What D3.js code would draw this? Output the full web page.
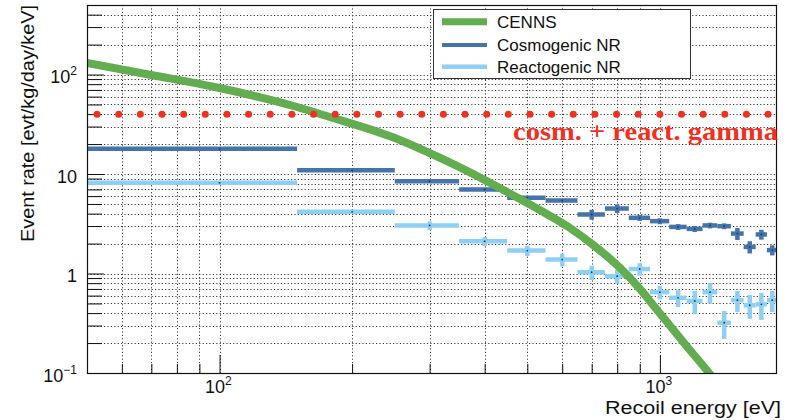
<!DOCTYPE html>
<html>
<head>
<meta charset="utf-8">
<script src="https://cdn.jsdelivr.net/npm/d3@7"></script>
<style>
  body { margin: 0; background: #fff; }
  svg { display: block; font-family: "Liberation Sans", Arial, Helvetica, sans-serif; }
</style>
</head>
<body>
<svg id="chart" width="788" height="420"></svg>
<script>
'use strict';

// CENNS expected spectrum (eV, evt/kg/day/keV)
var cennsEnergy = [50, 70, 100, 150, 172, 250, 317, 400, 481, 551, 625, 701, 812, 901, 965, 1049, 1152, 1293, 1349];
var cennsRate = [130.6, 99, 73.2, 47.2, 39.2, 23.0, 14.5, 8.71, 5.61, 4.01, 2.87, 1.98, 1.137, 0.699, 0.483, 0.307, 0.185, 0.1, 0.079];

// binned nuclear recoil backgrounds
var binLow = [50, 150, 250, 350, 450, 550, 650, 750, 850, 950, 1050, 1150, 1250, 1350, 1450, 1550, 1650, 1750];
var binHigh = [150, 250, 350, 450, 550, 650, 750, 850, 950, 1050, 1150, 1250, 1350, 1450, 1550, 1650, 1750, 1850];
var binCenter = [100, 200, 300, 400, 500, 600, 700, 800, 900, 1000, 1100, 1200, 1300, 1400, 1500, 1600, 1700, 1800];
var cosmRate = [17.9, 10.9, 8.46, 6.99, 5.77, 5.42, 3.92, 4.50, 3.63, 3.36, 2.94, 2.81, 3.04, 2.99, 2.52, 1.85, 2.47, 1.72];
var cosmErr = [0.4, 0.4, 0.3, 0.25, 0.25, 0.2, 0.45, 0.45, 0.25, 0.23, 0.2, 0.2, 0.2, 0.2, 0.35, 0.26, 0.28, 0.2];
var reactRate = [8.16, 4.17, 3.04, 2.11, 1.70, 1.38, 1.03, 0.94, 1.11, 0.65, 0.57, 0.53, 0.65, 0.32, 0.54, 0.48, 0.49, 0.54];
var reactErr = [0.15, 0.2, 0.3, 0.22, 0.2, 0.2, 0.17, 0.15, 0.16, 0.1, 0.11, 0.14, 0.15, 0.1, 0.13, 0.13, 0.15, 0.13];

// flat gamma background level
var gammaLevel = 40;
var gammaRange = [52.7, 1761];
var gammaLabel = 'cosm. + react. gamma';

// axes
var xMajor = [100, 1000];
var xMinor = [50, 60, 70, 80, 90, 200, 300, 400, 500, 600, 700, 800, 900];
var yMajor = [0.1, 1, 10, 100];
var yMinor = [0.2, 0.3, 0.4, 0.5, 0.6, 0.7, 0.8, 0.9, 2, 3, 4, 5, 6, 7, 8, 9, 20, 30, 40, 50, 60, 70, 80, 90, 200, 300, 400];
var xTickText = [['10', '2'], ['10', '3']];
var yTickText = [['10', '\u22121'], ['1', ''], ['10', ''], ['10', '2']];
var xTitle = 'Recoil energy [eV]';
var yTitle = 'Event rate [evt/kg/day/keV]';
var legendNames = ['CENNS', 'Cosmogenic NR', 'Reactogenic NR'];

(function() {
  var width = 788, height = 420;
  var left = 87, right = 777, top = 5, bottom = 373;
  var green = '#62ad50', blue = '#4574ad', lightBlue = '#8dd0f3', red = '#f1301f';

  var x = d3.scaleLog().domain([50, 1845]).range([left, right]);
  var y = d3.scaleLog().domain([0.1, 500]).range([bottom, top]);

  var svg = d3.select('#chart');
  svg.append('rect').attr('width', width).attr('height', height).attr('fill', '#fff');

  svg.append('defs').append('clipPath').attr('id', 'plot')
    .append('rect')
      .attr('x', left).attr('y', top)
      .attr('width', right - left).attr('height', bottom - top);

  // dotted grid on every tick
  var grid = svg.append('g')
    .attr('stroke', '#3a3a3a')
    .attr('stroke-width', 1)
    .attr('stroke-dasharray', '1.2,2.2');
  grid.selectAll('.gx').data(xMajor.concat(xMinor)).enter().append('line')
    .attr('x1', function(d) { return Math.round(x(d)) + 0.5; })
    .attr('x2', function(d) { return Math.round(x(d)) + 0.5; })
    .attr('y1', top).attr('y2', bottom);
  grid.selectAll('.gy').data(yMajor.concat(yMinor)).enter().append('line')
    .attr('y1', function(d) { return Math.round(y(d)) + 0.5; })
    .attr('y2', function(d) { return Math.round(y(d)) + 0.5; })
    .attr('x1', left).attr('x2', right);

  // tick marks pointing inwards
  function ticks(g) { g.select('.domain').remove(); g.attr('color', '#111'); }
  svg.append('g').attr('transform', 'translate(0,' + bottom + ')')
    .call(d3.axisBottom(x).tickValues(xMajor).tickSize(-18).tickFormat('')).call(ticks);
  svg.append('g').attr('transform', 'translate(0,' + bottom + ')')
    .call(d3.axisBottom(x).tickValues(xMinor).tickSize(-9).tickFormat('')).call(ticks);
  svg.append('g').attr('transform', 'translate(' + left + ',0)')
    .call(d3.axisLeft(y).tickValues(yMajor).tickSize(-17).tickFormat('')).call(ticks);
  svg.append('g').attr('transform', 'translate(' + left + ',0)')
    .call(d3.axisLeft(y).tickValues(yMinor).tickSize(-15).tickFormat('')).call(ticks);

  var plot = svg.append('g').attr('clip-path', 'url(#plot)');

  // binned series: horizontal bin width + vertical error
  function drawBins(rates, errs, color) {
    var g = plot.append('g').attr('stroke', color).attr('stroke-width', 4.5);
    g.selectAll('.h').data(rates).enter().append('line')
      .attr('x1', function(d, i) { return x(binLow[i]); })
      .attr('x2', function(d, i) { return x(binHigh[i]); })
      .attr('y1', function(d) { return y(d); })
      .attr('y2', function(d) { return y(d); });
    g.selectAll('.v').data(rates).enter().append('line')
      .attr('x1', function(d, i) { return x(binCenter[i]); })
      .attr('x2', function(d, i) { return x(binCenter[i]); })
      .attr('y1', function(d, i) { return y(d - errs[i]); })
      .attr('y2', function(d, i) { return y(d + errs[i]); });
    plot.append('g').selectAll('circle').data(rates).enter().append('circle')
      .attr('cx', function(d, i) { return x(binCenter[i]); })
      .attr('cy', function(d) { return y(d); })
      .attr('r', 0.9)
      .attr('fill', '#1d3553');
  }
  drawBins(reactRate, reactErr, lightBlue);
  drawBins(cosmRate, cosmErr, blue);

  // CENNS curve
  var line = d3.line()
    .x(function(d) { return x(d[0]); })
    .y(function(d) { return y(d[1]); })
    .curve(d3.curveMonotoneX);
  plot.append('path')
    .datum(cennsEnergy.map(function(e, i) { return [e, cennsRate[i]]; }))
    .attr('d', line)
    .attr('fill', 'none')
    .attr('stroke', green)
    .attr('stroke-width', 8);

  // gamma level as a row of dots
  var gx1 = x(gammaRange[0]), gx2 = x(gammaRange[1]);
  plot.append('line')
    .attr('x1', gx1).attr('x2', gx2)
    .attr('y1', y(gammaLevel)).attr('y2', y(gammaLevel))
    .attr('stroke', red)
    .attr('stroke-width', 7)
    .attr('stroke-linecap', 'round')
    .attr('stroke-dasharray', '0,' + ((gx2 - gx1) / 31));

  // frame
  svg.append('rect')
    .attr('x', left + 0.5).attr('y', top + 0.5)
    .attr('width', right - left - 1).attr('height', bottom - top)
    .attr('fill', 'none')
    .attr('stroke', '#111')
    .attr('stroke-width', 1.2);

  // tick labels
  var xl = svg.append('g').attr('font-size', 18).attr('fill', '#111');
  xMajor.forEach(function(v, i) {
    var t = xl.append('text').attr('x', x(v) - 14.5).attr('y', 393);
    t.append('tspan').text(xTickText[i][0]);
    t.append('tspan').attr('font-size', 12).attr('dy', -8).text(xTickText[i][1]);
  });
  var yl = svg.append('g').attr('font-size', 18).attr('fill', '#111').attr('text-anchor', 'end');
  yMajor.forEach(function(v, i) {
    var t = yl.append('text').attr('x', 77).attr('y', y(v) + 8.5);
    t.append('tspan').text(yTickText[i][0]);
    if (yTickText[i][1]) {
      t.append('tspan').attr('font-size', 12).attr('dy', -8).text(yTickText[i][1]);
    }
  });

  // axis titles
  svg.append('text')
    .attr('x', 781).attr('y', 414)
    .attr('text-anchor', 'end')
    .attr('font-size', 17.5)
    .attr('textLength', 176).attr('lengthAdjust', 'spacingAndGlyphs')
    .attr('fill', '#111')
    .text(xTitle);
  svg.append('text')
    .attr('transform', 'translate(33.5,5) rotate(-90)')
    .attr('text-anchor', 'end')
    .attr('font-size', 18)
    .attr('textLength', 237).attr('lengthAdjust', 'spacingAndGlyphs')
    .attr('fill', '#111')
    .text(yTitle);

  // gamma label
  svg.append('text')
    .attr('x', 513).attr('y', 140)
    .attr('font-family', '"Liberation Serif", "Times New Roman", serif')
    .attr('font-weight', 'bold')
    .attr('font-size', 26)
    .attr('textLength', 265).attr('lengthAdjust', 'spacingAndGlyphs')
    .attr('fill', red)
    .text(gammaLabel);

  // legend
  var legend = svg.append('g');
  legend.append('rect')
    .attr('x', 433.5).attr('y', 9.5)
    .attr('width', 257).attr('height', 69)
    .attr('fill', '#fff')
    .attr('stroke', '#333');
  var legendColors = [green, blue, lightBlue];
  var legendWidths = [7, 4, 4.5];
  var legendRows = [21.7, 45, 66.7];
  legendNames.forEach(function(name, i) {
    legend.append('line')
      .attr('x1', 442).attr('x2', 487)
      .attr('y1', legendRows[i]).attr('y2', legendRows[i])
      .attr('stroke', legendColors[i])
      .attr('stroke-width', legendWidths[i]);
    legend.append('text')
      .attr('x', 497).attr('y', legendRows[i] + 5.8)
      .attr('font-size', 17)
      .attr('fill', '#111')
      .text(name);
  });
})();
</script>
</body>
</html>
